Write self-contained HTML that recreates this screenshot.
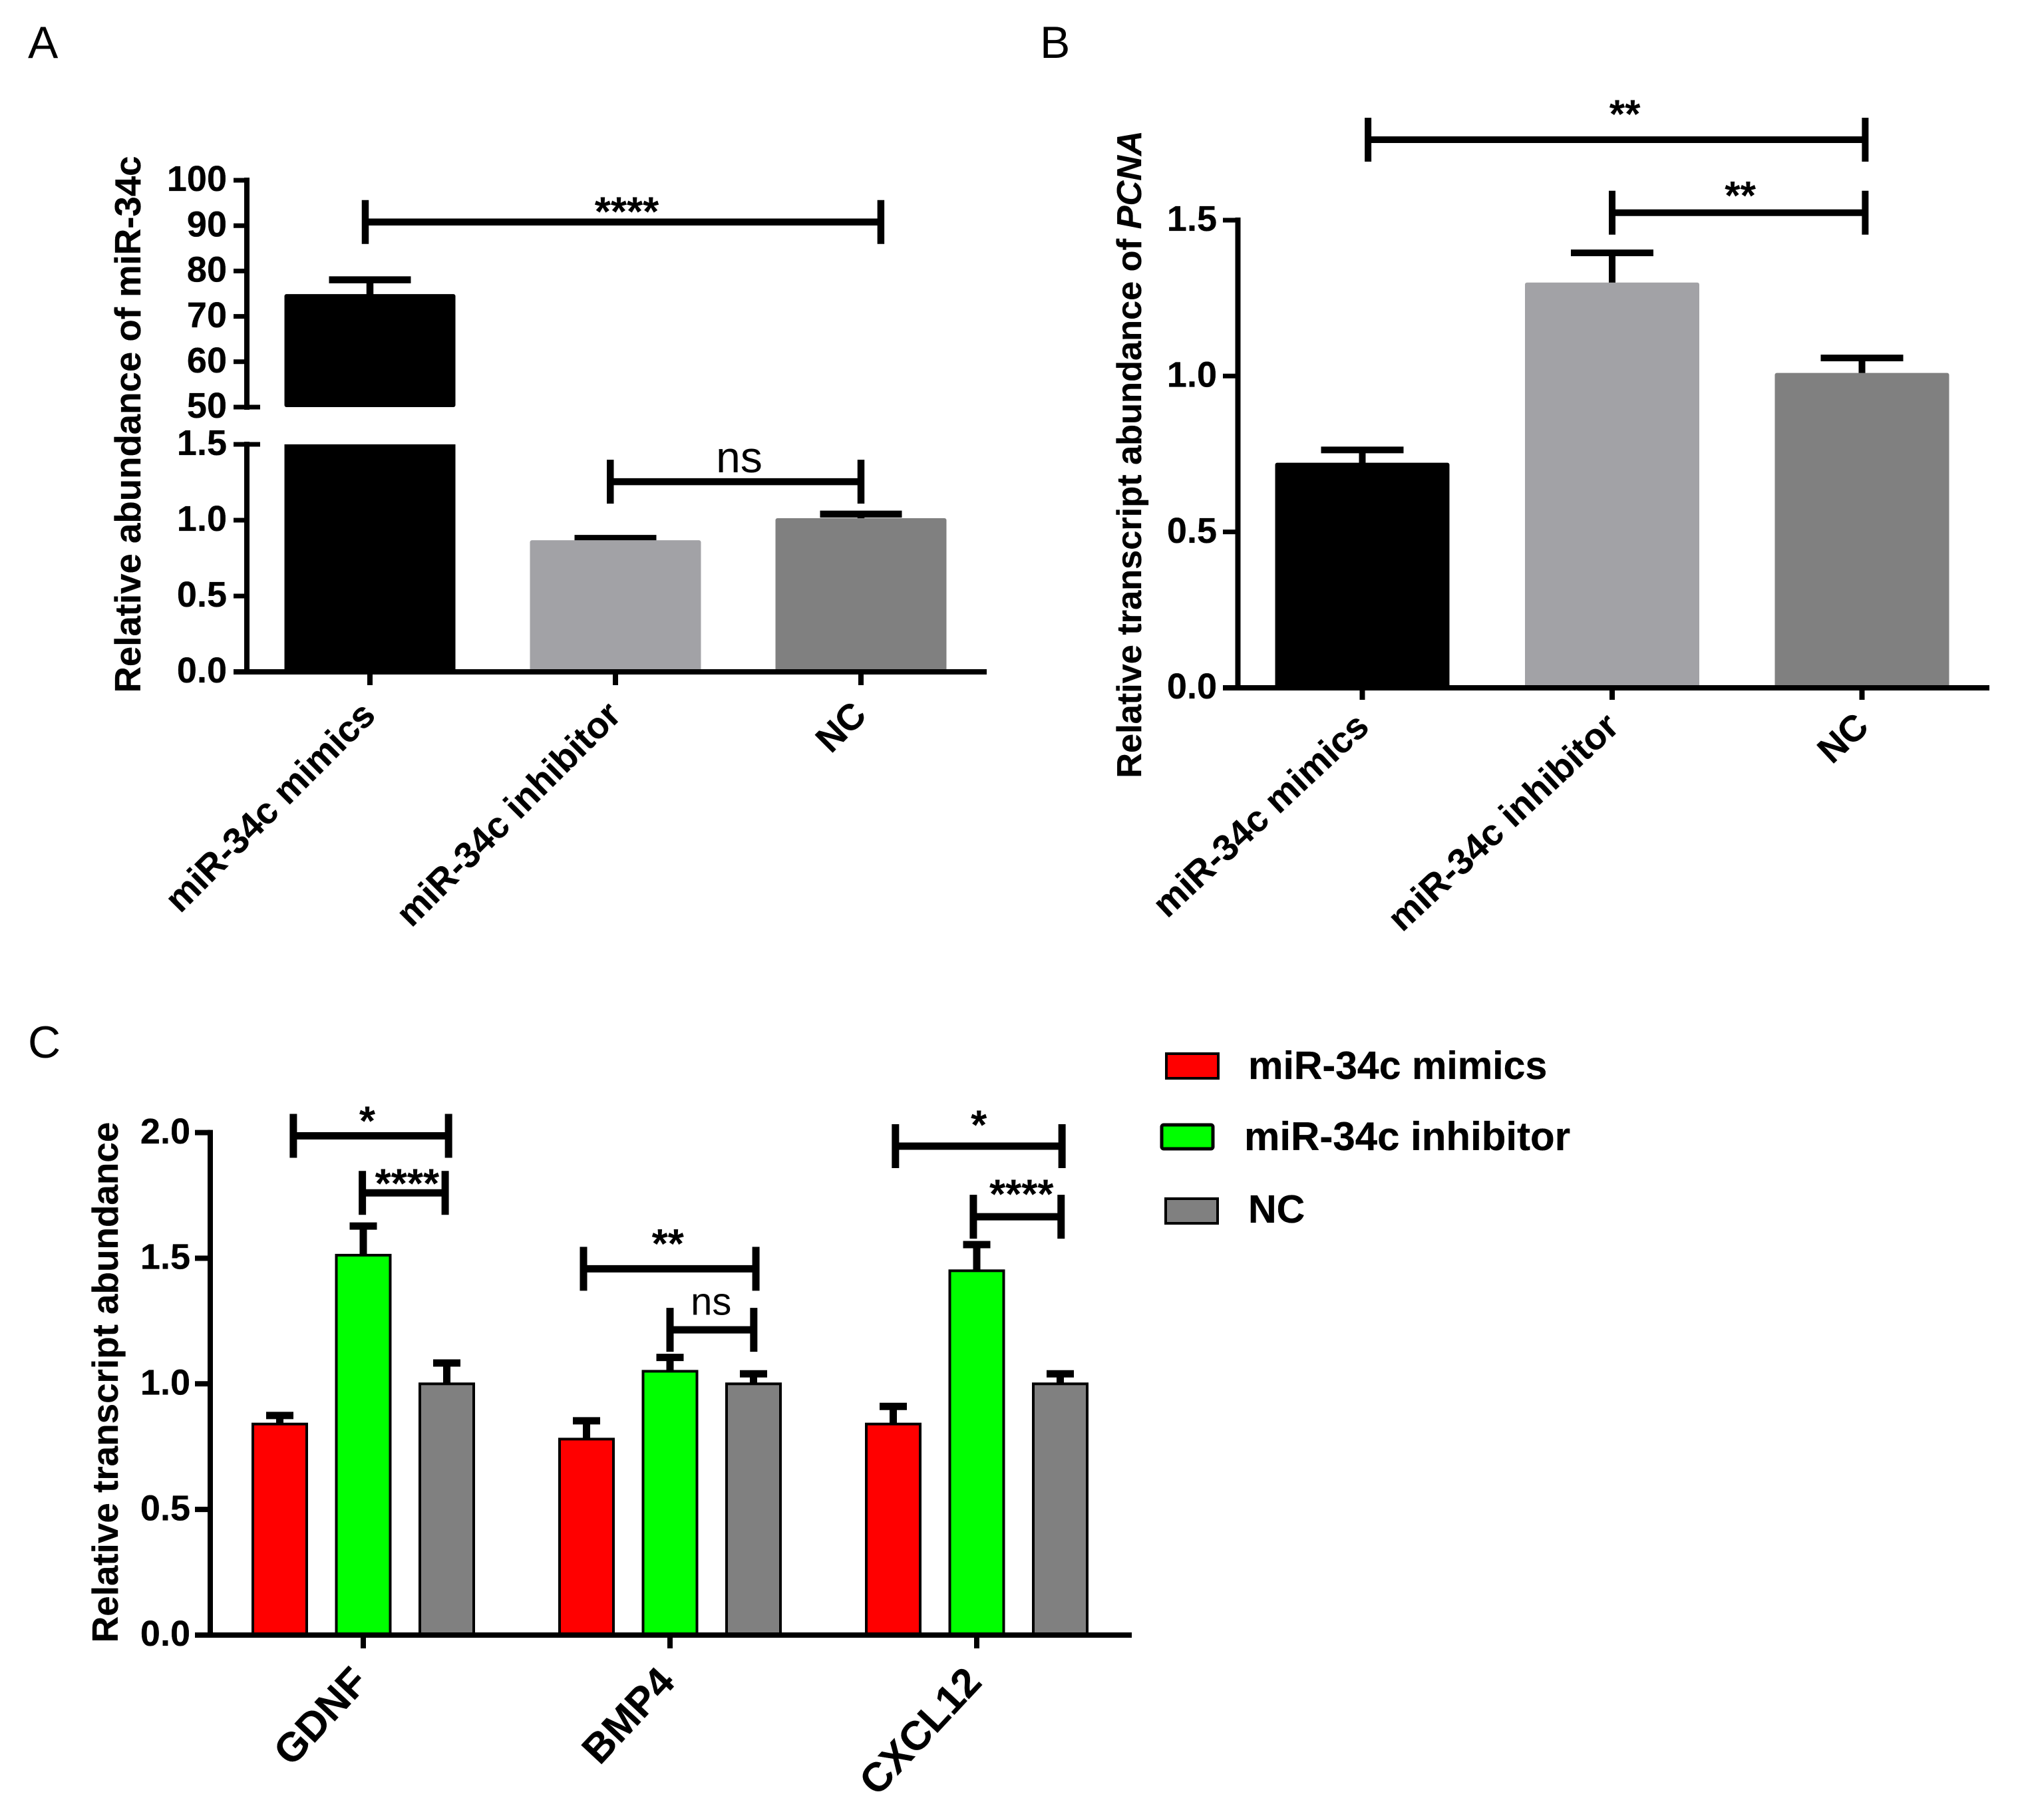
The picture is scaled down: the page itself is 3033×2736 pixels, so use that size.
<!DOCTYPE html>
<html>
<head>
<meta charset="utf-8">
<title>miR-34c transcript abundance figure</title>
<style>
html,body{margin:0;padding:0;background:#fff;}
svg{display:block;}
text{font-family:"Liberation Sans",Arial,sans-serif;fill:#000;}
.b{font-weight:bold;stroke:#000;stroke-width:0.3px;}
</style>
</head>
<body>
<svg id="figure" xmlns="http://www.w3.org/2000/svg" width="3033" height="2736" viewBox="0 0 3033 2736">
  <rect x="0" y="0" width="3033" height="2736" fill="#fff"/>
  <text x="42" y="87" font-size="68">A</text>
  <text x="1563" y="87" font-size="68">B</text>
  <text x="42" y="1590" font-size="68">C</text>

  <g>
    <g>
      <rect x="1753" y="1584" width="78" height="37" fill="#f00" stroke="#000" stroke-width="4"/>
      <text class="b" x="1876" y="1622" font-size="59">miR-34c mimics</text>
    </g>
    <g>
      <rect x="1746" y="1691" width="77" height="36" rx="3" fill="#0f0" stroke="#000" stroke-width="5"/>
      <text class="b" x="1870" y="1729" font-size="60">miR-34c inhibitor</text>
    </g>
    <g>
      <rect x="1752" y="1802" width="78" height="37" fill="#808080" stroke="#000" stroke-width="4"/>
      <text class="b" x="1876" y="1838" font-size="59">NC</text>
    </g>
  </g>
</svg>
<script>
/* ---------- Panel A data ---------- */
const categoriesA = ['miR-34c mimics', 'miR-34c inhibitor', 'NC'];
const valuesA = [74.9, 0.868, 1.013];
const errorTopsA = [78.07, 0.88, 1.04];
const ticksLowerA = [0, 0.5, 1.0, 1.5];
const tickLabelsLowerA = ['0.0', '0.5', '1.0', '1.5'];
const ticksUpperA = [50, 60, 70, 80, 90, 100];
const tickLabelsUpperA = ['50', '60', '70', '80', '90', '100'];
const bracketFromA = [-0.019, 0.979];
const bracketToA = [2.081, 2.0];
const bracketLevelsA = [90.8, 1.254];
const bracketTextCatsA = [1.046, 1.504];
const bracketTextLevelsA = [94.15, 1.39];
const bracketTextsA = ['****', 'ns'];

/* ---------- Panel B data ---------- */
const categoriesB = ['miR-34c mimics', 'miR-34c inhibitor', 'NC'];
const valuesB = [0.722, 1.30, 1.01];
const errorTopsB = [0.763, 1.395, 1.058];
const ticksB = [0, 0.5, 1.0, 1.5];
const tickLabelsB = ['0.0', '0.5', '1.0', '1.5'];
const bracketFromB = [0.023, 1.0];
const bracketToB = [2.013, 2.013];
const bracketLevelsB = [1.758, 1.524];
const bracketTextCatsB = [1.051, 1.513];
const bracketTextLevelsB = [1.855, 1.594];
const bracketTextsB = ['**', '**'];

/* ---------- Panel C data ---------- */
const genesC = ['GDNF', 'BMP4', 'CXCL12'];
const seriesNamesC = ['miR-34c mimics', 'miR-34c inhibitor', 'NC'];
const mimicsC = [0.84, 0.78, 0.84];
const inhibitorC = [1.512, 1.05, 1.45];
const controlC = [1.0, 1.0, 1.0];
const mimicsErrC = [0.874, 0.853, 0.91];
const inhibitorErrC = [1.628, 1.105, 1.554];
const controlErrC = [1.083, 1.04, 1.04];
const ticksC = [0, 0.5, 1.0, 1.5, 2.0];
const tickLabelsC = ['0.0', '0.5', '1.0', '1.5', '2.0'];
const bracketFromC = [-0.228, -0.003, 0.718, 1.0, 1.735, 1.989];
const bracketToC = [0.278, 0.267, 1.28, 1.273, 2.278, 2.275];
const bracketLevelsC = [1.987, 1.76, 1.458, 1.215, 1.946, 1.665];
const bracketTextCatsC = [0.013, 0.143, 0.993, 1.134, 2.007, 2.146];
const bracketTextLevelsC = [2.065, 1.816, 1.577, 1.315, 2.049, 1.774];
const bracketTextsC = ['*', '****', '**', 'ns', '*', '****'];

const NS = 'http://www.w3.org/2000/svg';
const root = document.getElementById('figure');

function node(parent, tag, attrs, name) {
  const el = document.createElementNS(NS, tag);
  for (const k in attrs) el.setAttribute(k, attrs[k]);
  
  
  parent.appendChild(el);
  return el;
}
function line(p, x1, y1, x2, y2, w, name) {
  return node(p, 'line', {x1: x1, y1: y1, x2: x2, y2: y2, stroke: '#000', 'stroke-width': w}, name);
}
function label(p, str, x, y, size, attrs, name) {
  const t = node(p, 'text', Object.assign({x: x, y: y, 'font-size': size}, attrs), name);
  t.textContent = str;
  return t;
}
function slug(s) { return String(s).toLowerCase().replace(/[^a-z0-9]+/g, '-'); }

function drawBrackets(g, x, y, from, to, levels, textCats, textLevels, texts, lw, endHalf, starSize, nsSize) {
  levels.forEach(function (lv, i) {
    const br = node(g, 'g', {}, 'significance-bracket-' + (i + 1));
    const x1 = x(from[i]), x2 = x(to[i]), yy = y(lv);
    line(br, x1, yy, x2, yy, lw, 'bracket-bar');
    line(br, x1, yy - endHalf, x1, yy + endHalf, lw, 'bracket-end-left');
    line(br, x2, yy - endHalf, x2, yy + endHalf, lw, 'bracket-end-right');
    const cx = x(textCats[i]), cy = y(textLevels[i]);
    if (texts[i] === 'ns') {
      label(br, 'ns', cx, cy + nsSize * 0.26, nsSize, {'text-anchor': 'middle'}, 'significance-label');
    } else {
      label(br, texts[i], cx, cy + starSize * 0.46, starSize, {'text-anchor': 'middle', 'font-weight': 'bold'}, 'significance-label');
    }
  });
}

function rotatedLabels(g, names, x, yBase, dx, size, angle) {
  names.forEach(function (n, i) {
    const bx = x(i) + dx;
    label(g, n, bx, yBase, size, {
      'class': 'b', 'text-anchor': 'end',
      transform: 'rotate(' + angle + ' ' + bx + ' ' + yBase + ')'
    }, 'x-tick-label-' + slug(n));
  });
}

function yTicks(g, ticks, texts, y, axisX, tickLeft, labelRight, size, lw) {
  ticks.forEach(function (v, i) {
    line(g, tickLeft, y(v), axisX, y(v), lw, 'y-tick-' + slug(texts[i]));
    label(g, texts[i], labelRight, y(v) + size * 0.30, size, {'class': 'b', 'text-anchor': 'end'}, 'y-tick-label-' + slug(texts[i]));
  });
}

/* ---------- Panel A: broken axis ---------- */
(function () {
  const g = node(root, 'g', {}, 'panel-a-chart');
  const x = function (c) { return 556 + 369 * c; };
  const yLow = function (v) { return 1010 - v * 228; };
  const yUp = function (v) { return 612 - (v - 50) * 6.82; };
  const y = function (v) { return v > 10 ? yUp(v) : yLow(v); };
  const barWidth = 257;
  const fills = ['#000000', '#a2a2a6', '#808080'];
  const axisX = 371;

  valuesA.forEach(function (v, i) {
    const bg = node(g, 'g', {}, 'bar-group-' + slug(categoriesA[i]));
    const left = x(i) - barWidth / 2;
    line(bg, x(i), y(v) + 2, x(i), y(errorTopsA[i]), 10.5, 'error-stem');
    line(bg, x(i) - 61.5, y(errorTopsA[i]), x(i) + 61.5, y(errorTopsA[i]), 10.5, 'error-cap');
    if (v > 1.5) {
      node(bg, 'rect', {x: left, y: yLow(1.5), width: barWidth, height: yLow(0) - yLow(1.5), fill: fills[i]}, 'bar-lower-segment');
      node(bg, 'rect', {x: left, y: yUp(v), width: barWidth, height: yUp(50) - yUp(v), rx: 3, fill: fills[i]}, 'bar-upper-segment');
    } else {
      node(bg, 'rect', {x: left, y: yLow(v), width: barWidth, height: yLow(0) - yLow(v), rx: 3, fill: fills[i]}, 'bar');
    }
  });

  line(g, axisX, yUp(100) - 4, axisX, yUp(50) + 4, 8, 'y-axis-upper');
  line(g, axisX, yLow(1.5) - 4, axisX, yLow(0), 8, 'y-axis-lower');
  line(g, 351, yLow(0), 1483, yLow(0), 8, 'x-axis');
  yTicks(g, ticksUpperA, tickLabelsUpperA, yUp, axisX, 351, 341, 54, 7);
  yTicks(g, ticksLowerA, tickLabelsLowerA, yLow, axisX, 351, 341, 54, 7);
  line(g, axisX, yUp(50), 391, yUp(50), 7, 'axis-break-tick-upper');
  line(g, axisX, yLow(1.5), 391, yLow(1.5), 7, 'axis-break-tick-lower');
  categoriesA.forEach(function (c, i) {
    line(g, x(i), yLow(0), x(i), 1030, 8, 'x-tick-' + slug(c));
  });
  rotatedLabels(g, categoriesA, x, 1078, 11, 55, -45);
  label(g, 'Relative abundance of miR-34c', 211, 638, 54.6, {'class': 'b', 'text-anchor': 'middle', transform: 'rotate(-90 211 638)'}, 'y-axis-title');
  drawBrackets(g, x, y, bracketFromA, bracketToA, bracketLevelsA, bracketTextCatsA, bracketTextLevelsA, bracketTextsA, 10.5, 33, 62, 66);
})();

/* ---------- Panel B ---------- */
(function () {
  const g = node(root, 'g', {}, 'panel-b-chart');
  const x = function (c) { return 2047.5 + 375.5 * c; };
  const y = function (v) { return 1034 - v * 468.7; };
  const barWidth = 262;
  const fills = ['#000000', '#a2a2a6', '#808080'];
  const axisX = 1860.5;

  valuesB.forEach(function (v, i) {
    const bg = node(g, 'g', {}, 'bar-group-' + slug(categoriesB[i]));
    line(bg, x(i), y(v) + 2, x(i), y(errorTopsB[i]), 10, 'error-stem');
    line(bg, x(i) - 62, y(errorTopsB[i]), x(i) + 62, y(errorTopsB[i]), 10, 'error-cap');
    node(bg, 'rect', {x: x(i) - barWidth / 2, y: y(v), width: barWidth, height: y(0) - y(v), rx: 3, fill: fills[i]}, 'bar');
  });

  line(g, axisX, y(1.5) - 4, axisX, y(0), 8, 'y-axis');
  line(g, 1838, y(0), 2990, y(0), 8, 'x-axis');
  yTicks(g, ticksB, tickLabelsB, y, axisX, 1838, 1829, 54, 7);
  categoriesB.forEach(function (c, i) {
    line(g, x(i), y(0), x(i), 1052, 8, 'x-tick-' + slug(c));
  });
  rotatedLabels(g, categoriesB, x, 1096, 13, 55, -43);
  const title = label(g, 'Relative transcript abundance of ', 1715, 683, 52.3, {'class': 'b', 'text-anchor': 'middle', transform: 'rotate(-90 1715 683)'}, 'y-axis-title');
  const em = node(title, 'tspan', {'font-style': 'italic'}, 'y-axis-title-gene');
  em.textContent = 'PCNA';
  drawBrackets(g, x, y, bracketFromB, bracketToB, bracketLevelsB, bracketTextCatsB, bracketTextLevelsB, bracketTextsB, 10, 33, 60, 66);
})();

/* ---------- Panel C ---------- */
(function () {
  const g = node(root, 'g', {}, 'panel-c-chart');
  const x = function (c) { return 546 + 461 * c; };
  const y = function (v) { return 2458 - v * 377.7; };
  const series = [mimicsC, inhibitorC, controlC];
  const tops = [mimicsErrC, inhibitorErrC, controlErrC];
  const fills = ['#ff0000', '#00ff00', '#808080'];
  const barWidth = 81;
  const offset = 125.5;
  const axisX = 316;

  series.forEach(function (vals, s) {
    vals.forEach(function (v, i) {
      const cx = x(i) + (s - 1) * offset;
      const bg = node(g, 'g', {}, 'bar-' + slug(genesC[i]) + '-' + slug(seriesNamesC[s]));
      line(bg, cx, y(v), cx, y(tops[s][i]), 11, 'error-stem');
      line(bg, cx - 20.5, y(tops[s][i]), cx + 20.5, y(tops[s][i]), 11, 'error-cap');
      node(bg, 'rect', {x: cx - barWidth / 2, y: y(v), width: barWidth, height: y(0) - y(v), fill: fills[s], stroke: '#000', 'stroke-width': 4}, 'bar');
    });
  });

  line(g, axisX, y(2) - 4, axisX, y(0), 8, 'y-axis');
  line(g, 293, y(0), 1701, y(0), 8, 'x-axis');
  yTicks(g, ticksC, tickLabelsC, y, axisX, 293, 286, 54, 8);
  genesC.forEach(function (c, i) {
    line(g, x(i), y(0), x(i), 2478, 8, 'x-tick-' + slug(c));
  });
  rotatedLabels(g, genesC, x, 2531, 10, 61, -47);
  label(g, 'Relative transcript abundance', 177, 2078, 54.8, {'class': 'b', 'text-anchor': 'middle', transform: 'rotate(-90 177 2078)'}, 'y-axis-title');
  drawBrackets(g, x, y, bracketFromC, bracketToC, bracketLevelsC, bracketTextCatsC, bracketTextLevelsC, bracketTextsC, 11, 33, 62, 58);
})();
</script>
</body>
</html>
